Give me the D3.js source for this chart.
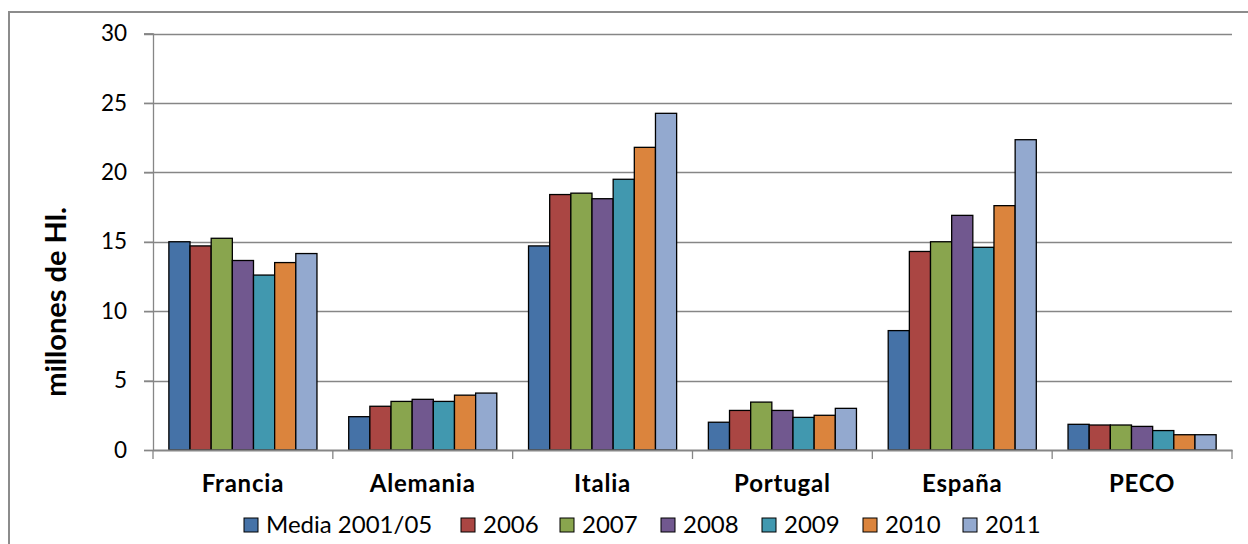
<!DOCTYPE html>
<html>
<head>
<meta charset="utf-8">
<script src="https://cdn.jsdelivr.net/npm/d3@7"></script>
<style>
  html, body { margin: 0; padding: 0; background: #fff; }
  svg { display: block; }
  text { font-family: Lato, "Open Sans", sans-serif; fill: #000; }
</style>
</head>
<body>
<svg id="chart" width="1248" height="544"></svg>
<script>
// Wine production by country, millions of hectolitres
const categories = ["Francia", "Alemania", "Italia", "Portugal", "España", "PECO"];
const seriesNames = ["Media 2001/05", "2006", "2007", "2008", "2009", "2010", "2011"];
const media0105 = [15.0, 2.4, 14.7, 2.0, 8.6, 1.85];
const y2006 = [14.7, 3.15, 18.4, 2.85, 14.3, 1.8];
const y2007 = [15.25, 3.5, 18.5, 3.45, 15.0, 1.8];
const y2008 = [13.65, 3.65, 18.1, 2.85, 16.9, 1.7];
const y2009 = [12.6, 3.5, 19.5, 2.35, 14.6, 1.4];
const y2010 = [13.5, 3.95, 21.8, 2.5, 17.6, 1.1];
const y2011 = [14.15, 4.1, 24.25, 3.0, 22.35, 1.1];
const seriesValues = [media0105, y2006, y2007, y2008, y2009, y2010, y2011];
const seriesColors = ["#4572A7", "#AA4643", "#89A54E", "#71588F", "#4198AF", "#DB843D", "#93A9CF"];
const yTicks = [0, 5, 10, 15, 20, 25, 30];
const yTitle = "millones de Hl.";

const svg = d3.select("#chart");

// outer chart frame
svg.append("rect")
  .attr("x", 9).attr("y", 12)
  .attr("width", 1400).attr("height", 700)
  .attr("fill", "none").attr("stroke", "#8c8c8c").attr("stroke-width", 2);

const plot = { left: 153, right: 1232, top: 33.5, bottom: 450 };

const y = d3.scaleLinear().domain([0, 30]).range([plot.bottom, plot.top]);
const x0 = d3.scaleBand().domain(categories).range([plot.left, plot.right]).padding(0);
const bw = x0.bandwidth();
const outerPad = 0.75 * bw / (seriesNames.length + 1.5);
const x1 = d3.scaleBand().domain(seriesNames).range([outerPad, bw - outerPad]).padding(0);

// gridlines
svg.append("g")
  .selectAll("line")
  .data(yTicks.filter(t => t > 0))
  .join("line")
  .attr("x1", plot.left - 9).attr("x2", plot.right)
  .attr("y1", d => Math.round(y(d)) + 0.5).attr("y2", d => Math.round(y(d)) + 0.5)
  .attr("stroke", "#868686").attr("stroke-width", 1.3);

// y axis
const yAxis = svg.append("g")
  .attr("transform", `translate(${plot.left},0)`)
  .call(d3.axisLeft(y).tickValues(yTicks).tickSize(9).tickPadding(17));
yAxis.select(".domain").attr("stroke", "#868686").attr("stroke-width", 1.3);
yAxis.selectAll(".tick line").attr("stroke", "#868686").attr("stroke-width", 1.3);
yAxis.selectAll(".tick text")
  .attr("font-family", "Lato, sans-serif")
  .attr("font-size", 22.5)
  .attr("fill", "#000");

// bars
const groups = svg.append("g")
  .selectAll("g")
  .data(categories)
  .join("g")
  .attr("transform", d => `translate(${x0(d)},0)`);

groups.selectAll("rect")
  .data((c, ci) => seriesNames.map((s, si) => ({ s, si, v: seriesValues[si][ci] })))
  .join("rect")
  .attr("x", d => x1(d.s))
  .attr("width", x1.bandwidth())
  .attr("y", d => y(d.v))
  .attr("height", d => y(0) - y(d.v))
  .attr("fill", d => seriesColors[d.si])
  .attr("stroke", "#000")
  .attr("stroke-width", 1.3);

// x axis
const xAxis = svg.append("g")
  .attr("transform", `translate(0,${plot.bottom})`)
  .call(d3.axisBottom(x0).tickSize(0).tickPadding(25));
xAxis.select(".domain").attr("stroke", "#868686").attr("stroke-width", 2.2);
xAxis.selectAll(".tick text")
  .attr("font-family", "Lato, sans-serif")
  .attr("font-weight", "bold")
  .attr("font-size", 24)
  .attr("letter-spacing", 0.8)
  .attr("fill", "#000");
// category separators below the axis
svg.append("g")
  .selectAll("line")
  .data(d3.range(categories.length + 1))
  .join("line")
  .attr("x1", i => plot.left + i * bw).attr("x2", i => plot.left + i * bw)
  .attr("y1", plot.bottom).attr("y2", plot.bottom + 9)
  .attr("stroke", "#868686").attr("stroke-width", 1.3);

// y axis title
svg.append("text")
  .attr("transform", "translate(66,302) rotate(-90)")
  .attr("text-anchor", "middle")
  .attr("font-weight", "bold")
  .attr("font-size", 29)
  .text(yTitle);

// legend
const legendX = [244, 461, 560, 661, 762, 863, 963];
const legend = svg.append("g")
  .selectAll("g")
  .data(seriesNames)
  .join("g")
  .attr("transform", (d, i) => `translate(${legendX[i]},518)`);
legend.append("rect")
  .attr("width", 14).attr("height", 14)
  .attr("fill", (d, i) => seriesColors[i])
  .attr("stroke", "#000").attr("stroke-width", 1);
legend.append("text")
  .attr("x", 22).attr("y", 14.5)
  .attr("font-size", 24)
  .text(d => d);
</script>
</body>
</html>
